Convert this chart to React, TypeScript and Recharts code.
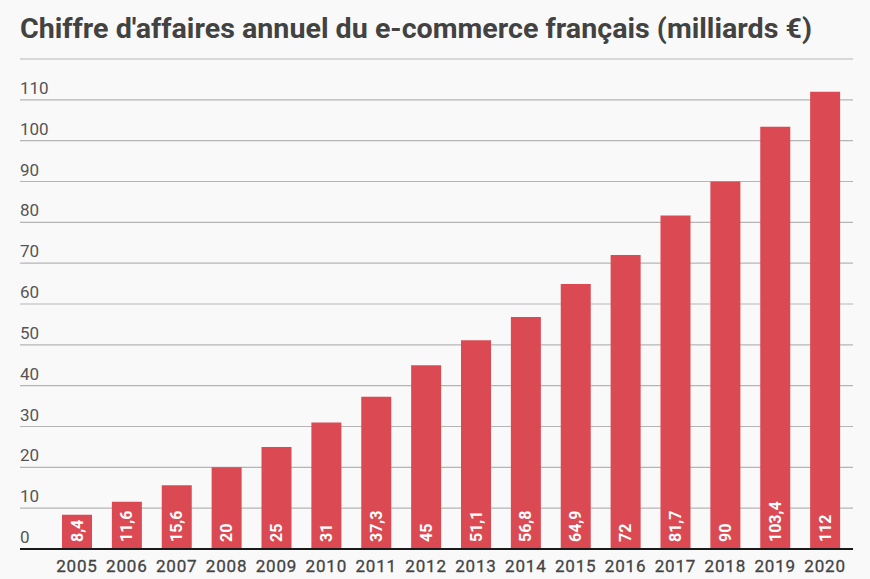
import React from "react";
import { BarChart, Bar, XAxis, YAxis, CartesianGrid, LabelList } from "recharts";

const years = ["2005","2006","2007","2008","2009","2010","2011","2012","2013","2014","2015","2016","2017","2018","2019","2020"];
const revenue = [8.4, 11.6, 15.6, 20, 25, 31, 37.3, 45, 51.1, 56.8, 64.9, 72, 81.7, 90, 103.4, 112];
const yTicks = [0, 10, 20, 30, 40, 50, 60, 70, 80, 90, 100, 110, 120];
const title = "Chiffre d'affaires annuel du e-commerce français (milliards €)";

const data = years.map((y, i) => ({ year: y, value: revenue[i] }));

const FONT = "Roboto, 'Noto Sans', sans-serif";

const YTick = (props: any) => {
  const { y, payload } = props;
  if (payload.value === 120) return null;
  return (
    <text x={20} y={y - 6} textAnchor="start" fontSize={17} fill="#555" fontFamily={FONT}>
      {payload.value}
    </text>
  );
};

const XTick = (props: any) => {
  const { x, y, payload } = props;
  return (
    <text x={x} y={y + 15} textAnchor="middle" fontSize={17} fill="#444" fontFamily={FONT} letterSpacing={0.8} stroke="#444" strokeWidth={0.3}>
      {payload.value}
    </text>
  );
};

const BarLabel = (props: any) => {
  const { x, y, width, height, value } = props;
  const cx = x + width / 2;
  const by = y + height - 7;
  return (
    <text
      x={cx}
      y={by}
      transform={`rotate(-90 ${cx} ${by})`}
      textAnchor="start"
      dominantBaseline="central"
      fill="#fff"
      fontWeight="bold"
      fontSize={16}
      fontFamily={FONT}
    >
      {String(value).replace(".", ",")}
    </text>
  );
};

export default function App() {
  return (
    <div style={{ position: "absolute", left: 0, top: 0, width: 870, height: 579, background: "#f9f9f9", overflow: "hidden" }}>
      <svg width={870} height={50} style={{ position: "absolute", left: 0, top: 0 }}>
        <text
          x={20}
          y={38}
          fontSize={27}
          fontWeight="bold"
          fill="#424242"
          fontFamily={FONT}
          textLength={792}
          lengthAdjust="spacingAndGlyphs"
        >
          {title}
        </text>
      </svg>
      <div style={{ position: "absolute", left: 0, top: 0 }}>
        <BarChart width={870} height={579} data={data} margin={{ top: 59, right: 17, bottom: 0, left: 19 }}>
          <CartesianGrid vertical={false} stroke="#b5b5b5" strokeWidth={1.2} />
          <YAxis
            width={1}
            domain={[0, 120]}
            ticks={yTicks}
            axisLine={false}
            tickLine={false}
            tick={<YTick />}
            interval={0}
          />
          <XAxis
            dataKey="year"
            height={30}
            padding={{ left: 32, right: 3 }}
            axisLine={{ stroke: "#1a1a1a", strokeWidth: 2 }}
            tickLine={false}
            tick={<XTick />}
            interval={0}
          />
          <Bar dataKey="value" fill="#db4a52" barSize={30} isAnimationActive={false}>
            <LabelList dataKey="value" content={<BarLabel />} />
          </Bar>
        </BarChart>
      </div>
    </div>
  );
}
